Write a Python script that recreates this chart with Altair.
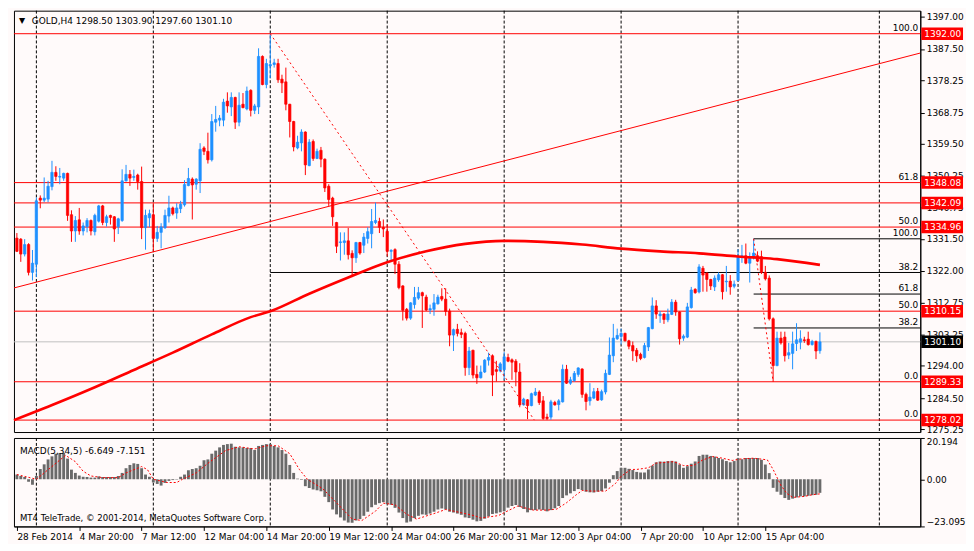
import json
import altair as alt
import pandas as pd

# ---------------- data ----------------
OPEN = [
    1331.7, 1331.4, 1327.0, 1329.8, 1321.6, 1324.0, 1343.5, 1342.9, 1343.2, 1346.9,
    1351.1, 1349.7, 1349.4, 1350.8, 1338.6, 1333.8, 1337.1, 1333.8, 1335.1, 1336.9,
    1333.6, 1336.7, 1341.2, 1336.3, 1338.4, 1338.0, 1335.1, 1336.9, 1348.6, 1350.5,
    1349.6, 1350.3, 1348.4, 1334.8, 1337.7, 1338.6, 1331.6, 1333.4, 1334.8, 1338.2,
    1340.6, 1339.1, 1340.4, 1341.5, 1347.2, 1349.1, 1347.6, 1348.6, 1358.3, 1357.3,
    1354.8, 1365.9, 1366.5, 1366.5, 1372.1, 1370.4, 1373.2, 1365.9, 1371.2, 1369.8,
    1375.3, 1369.4, 1370.4, 1385.3, 1377.0, 1382.5, 1382.9, 1383.2, 1378.6, 1377.8,
    1371.2, 1366.1, 1358.3, 1359.8, 1363.0, 1353.1, 1360.2, 1355.2, 1357.6, 1355.0,
    1347.0, 1343.5, 1336.3, 1330.4, 1330.4, 1330.9, 1327.2, 1325.9, 1330.4, 1329.6,
    1331.6, 1333.0, 1336.3, 1336.6, 1334.9, 1333.7, 1327.8, 1328.3, 1324.0, 1317.6,
    1310.7, 1308.1, 1312.1, 1314.0, 1315.6, 1314.3, 1310.5, 1310.7, 1312.3, 1314.5,
    1313.7, 1310.2, 1303.1, 1304.8, 1303.8, 1303.6, 1293.5, 1298.6, 1291.5, 1290.5,
    1292.2, 1295.7, 1297.0, 1292.9, 1292.5, 1292.9, 1296.5, 1295.8, 1295.4, 1292.2,
    1282.5, 1284.0, 1282.3, 1285.4, 1286.3, 1283.7, 1278.9, 1278.9, 1283.2, 1282.6,
    1283.4, 1293.0, 1288.9, 1289.7, 1291.5, 1293.1, 1285.6, 1283.7, 1284.5, 1286.5,
    1284.0, 1286.3, 1291.5, 1297.0, 1302.0, 1302.7, 1303.6, 1301.4, 1300.0, 1298.6,
    1297.4, 1296.5, 1299.6, 1305.0, 1311.7, 1308.8, 1309.3, 1307.6, 1309.2, 1312.8,
    1309.9, 1302.2, 1302.5, 1311.2, 1316.6, 1315.8, 1322.8, 1321.4, 1319.5, 1317.3,
    1319.4, 1320.9, 1318.8, 1319.0, 1317.5, 1319.2, 1326.2, 1326.5, 1324.3, 1325.9,
    1326.5, 1326.2, 1321.6, 1319.9, 1307.9, 1294.1, 1302.2, 1302.5, 1297.2, 1297.7,
    1300.6, 1301.0, 1301.7, 1301.9, 1300.3, 1301.2, 1298.50,
]
HIGH = [
    1333.2, 1331.7, 1331.4, 1330.2, 1328.2, 1343.7, 1344.3, 1349.6, 1348.6, 1354.5,
    1352.9, 1352.4, 1351.0, 1351.0, 1339.9, 1338.2, 1340.6, 1336.3, 1337.6, 1337.2,
    1338.9, 1341.5, 1341.5, 1338.6, 1338.6, 1338.2, 1337.7, 1352.0, 1353.3, 1351.8,
    1351.9, 1350.7, 1352.8, 1340.1, 1340.1, 1342.0, 1335.3, 1336.1, 1340.1, 1344.2,
    1341.0, 1342.0, 1342.7, 1348.8, 1352.4, 1349.6, 1349.4, 1359.7, 1358.8, 1362.8,
    1368.3, 1370.7, 1368.0, 1372.8, 1374.7, 1374.7, 1373.4, 1374.7, 1374.5, 1376.4,
    1375.6, 1371.3, 1387.7, 1385.6, 1384.6, 1392.0, 1384.6, 1384.6, 1379.9, 1382.0,
    1371.3, 1366.3, 1361.9, 1363.8, 1363.2, 1360.9, 1360.8, 1358.1, 1358.6, 1355.2,
    1347.6, 1343.9, 1336.5, 1333.4, 1333.4, 1334.7, 1328.1, 1330.6, 1330.6, 1333.2,
    1334.9, 1340.3, 1342.2, 1337.7, 1337.2, 1335.8, 1328.4, 1328.7, 1324.9, 1317.8,
    1311.1, 1312.8, 1317.3, 1317.3, 1315.9, 1315.0, 1312.1, 1315.2, 1315.0, 1316.9,
    1316.9, 1310.9, 1305.0, 1306.4, 1305.0, 1304.1, 1299.6, 1298.8, 1294.1, 1294.1,
    1296.0, 1297.9, 1297.4, 1295.5, 1295.1, 1298.1, 1297.6, 1296.2, 1296.0, 1294.8,
    1284.6, 1284.2, 1286.1, 1287.5, 1286.8, 1285.1, 1279.9, 1284.0, 1283.7, 1284.2,
    1294.4, 1294.3, 1290.8, 1292.5, 1293.6, 1293.3, 1286.1, 1288.9, 1287.5, 1287.5,
    1287.0, 1292.9, 1302.4, 1306.4, 1305.0, 1305.0, 1303.8, 1301.7, 1301.2, 1299.3,
    1297.9, 1300.8, 1305.5, 1314.2, 1313.4, 1310.2, 1309.6, 1310.9, 1313.7, 1313.5,
    1310.1, 1303.3, 1312.6, 1317.3, 1316.9, 1324.0, 1323.5, 1321.6, 1319.7, 1320.7,
    1321.6, 1321.1, 1323.5, 1320.8, 1319.2, 1328.4, 1329.7, 1330.1, 1327.5, 1331.5,
    1327.8, 1328.0, 1323.5, 1320.7, 1308.3, 1304.1, 1304.1, 1304.1, 1300.8, 1304.1,
    1306.6, 1304.5, 1302.6, 1304.1, 1301.7, 1301.5, 1303.90,
]
LOW = [
    1327.6, 1324.7, 1326.3, 1320.7, 1319.2, 1320.2, 1340.5, 1342.3, 1342.3, 1345.8,
    1348.6, 1347.6, 1348.6, 1336.8, 1330.6, 1330.6, 1332.7, 1332.5, 1333.4, 1332.5,
    1332.5, 1336.3, 1335.5, 1335.1, 1335.7, 1330.6, 1332.9, 1336.5, 1348.4, 1347.1,
    1348.6, 1346.0, 1331.4, 1328.3, 1334.9, 1327.6, 1330.6, 1328.7, 1334.4, 1336.3,
    1338.4, 1337.4, 1339.1, 1341.0, 1347.0, 1337.2, 1346.0, 1345.0, 1356.2, 1353.7,
    1354.3, 1363.1, 1364.7, 1364.7, 1368.7, 1367.7, 1363.9, 1364.7, 1370.0, 1369.4,
    1367.6, 1368.3, 1368.3, 1376.8, 1375.9, 1378.9, 1382.0, 1377.5, 1374.5, 1369.4,
    1361.4, 1357.3, 1357.9, 1357.3, 1350.3, 1352.9, 1354.5, 1355.0, 1352.6, 1345.3,
    1341.2, 1335.3, 1327.3, 1325.1, 1326.8, 1325.4, 1320.2, 1324.4, 1326.8, 1327.3,
    1330.1, 1328.7, 1335.8, 1333.2, 1332.0, 1326.3, 1324.9, 1321.1, 1316.6, 1307.4,
    1307.4, 1307.6, 1310.9, 1313.5, 1305.2, 1310.2, 1309.3, 1308.8, 1312.1, 1313.1,
    1308.8, 1299.8, 1298.4, 1302.7, 1302.2, 1291.1, 1291.3, 1290.3, 1288.7, 1290.3,
    1291.9, 1294.1, 1285.1, 1289.4, 1292.1, 1289.9, 1295.1, 1289.9, 1288.0, 1281.8,
    1282.3, 1278.3, 1282.1, 1285.1, 1282.5, 1278.1, 1278.02, 1278.1, 1282.3, 1280.9,
    1283.2, 1288.7, 1288.4, 1289.3, 1290.8, 1284.6, 1280.9, 1282.3, 1284.2, 1283.7,
    1283.7, 1285.6, 1291.3, 1295.1, 1301.7, 1300.3, 1301.2, 1298.9, 1295.5, 1295.1,
    1295.7, 1296.2, 1298.4, 1304.8, 1307.9, 1306.7, 1306.4, 1306.9, 1309.0, 1308.8,
    1300.3, 1301.4, 1302.2, 1310.9, 1315.3, 1315.4, 1315.9, 1315.9, 1316.4, 1316.1,
    1318.8, 1313.6, 1315.9, 1315.0, 1316.9, 1319.0, 1324.4, 1324.0, 1318.6, 1325.4,
    1324.6, 1321.1, 1319.2, 1307.4, 1289.33, 1293.9, 1300.3, 1295.3, 1296.0, 1293.0,
    1298.4, 1298.9, 1300.8, 1300.0, 1300.0, 1296.0, 1297.60,
]
CLOSE = [
    1327.8, 1327.0, 1329.8, 1321.6, 1324.3, 1342.7, 1342.9, 1343.5, 1347.0, 1351.1,
    1349.9, 1349.9, 1350.8, 1338.4, 1333.8, 1336.9, 1333.8, 1335.3, 1336.9, 1333.8,
    1338.4, 1341.2, 1336.3, 1338.0, 1337.8, 1334.4, 1337.4, 1348.6, 1350.5, 1349.4,
    1349.9, 1348.4, 1334.8, 1338.4, 1338.9, 1331.6, 1333.4, 1335.0, 1338.4, 1340.6,
    1338.9, 1340.6, 1341.7, 1347.5, 1349.3, 1347.4, 1349.1, 1357.9, 1357.3, 1354.8,
    1366.1, 1366.7, 1367.1, 1371.8, 1370.7, 1373.2, 1365.9, 1370.9, 1370.2, 1375.1,
    1369.4, 1370.7, 1385.3, 1377.0, 1383.2, 1382.9, 1383.4, 1378.4, 1377.5, 1371.2,
    1366.1, 1358.6, 1360.0, 1363.0, 1353.3, 1360.0, 1355.2, 1357.3, 1355.0, 1346.5,
    1343.1, 1338.0, 1329.3, 1330.6, 1330.9, 1326.8, 1325.9, 1330.4, 1327.3, 1332.0,
    1333.6, 1336.6, 1336.9, 1334.9, 1334.4, 1327.8, 1328.1, 1324.0, 1317.1, 1310.4,
    1308.1, 1312.6, 1314.2, 1315.6, 1314.7, 1310.5, 1310.9, 1312.6, 1314.3, 1313.7,
    1310.1, 1303.1, 1304.7, 1303.6, 1303.3, 1293.5, 1298.4, 1291.3, 1290.5, 1292.2,
    1295.7, 1296.5, 1291.3, 1292.4, 1294.6, 1296.7, 1295.4, 1295.1, 1292.2, 1282.5,
    1284.2, 1282.3, 1285.8, 1286.3, 1283.2, 1278.5, 1278.5, 1283.4, 1282.5, 1283.7,
    1293.0, 1288.9, 1289.9, 1291.8, 1293.4, 1285.6, 1283.5, 1284.8, 1286.4, 1283.9,
    1286.4, 1291.8, 1297.2, 1302.2, 1303.0, 1303.6, 1301.4, 1299.8, 1298.4, 1297.0,
    1296.2, 1300.0, 1305.3, 1311.7, 1309.3, 1309.3, 1307.7, 1309.3, 1312.8, 1309.9,
    1302.0, 1302.8, 1311.4, 1316.4, 1315.6, 1323.2, 1320.8, 1319.5, 1317.6, 1319.9,
    1320.9, 1315.9, 1319.0, 1317.3, 1318.1, 1326.3, 1326.5, 1324.3, 1326.2, 1327.3,
    1324.9, 1321.6, 1319.7, 1307.9, 1294.1, 1302.2, 1300.8, 1297.0, 1297.9, 1300.5,
    1301.7, 1302.0, 1301.5, 1300.3, 1301.2, 1298.4, 1301.10,
]

MACD = [
    2.3, 1.6, 1.1, -1.2, -2.7, 1.6, 5.0, 7.3, 9.7, 11.2,
    12.5, 12.7, 12.9, 10.1, 4.7, 3.1, 1.8, 1.2, 1.1, 0.8,
    0.8, 1.4, 1.1, 1.1, 1.1, 1.1, 1.6, 3.1, 5.4, 7.0,
    7.8, 7.5, 5.4, 2.3, 1.2, -1.6, -2.3, -3.1, -1.8, -0.8,
    -0.4, -0.2, 1.2, 2.3, 4.4, 5.0, 5.4, 6.6, 9.3, 9.7,
    12.5, 14.0, 15.6, 16.8, 17.2, 17.4, 15.9, 15.6, 15.6, 15.3,
    15.3, 14.3, 16.3, 16.8, 17.2, 17.2, 16.3, 15.6, 14.3, 12.5,
    7.0, 3.1, 0.3, -0.3, -3.4, -4.3, -5.0, -5.4, -5.9, -8.6,
    -11.2, -14.8, -17.2, -18.7, -20.2, -21.2, -21.3, -20.2, -19.5, -17.9,
    -15.9, -13.7, -12.5, -11.7, -11.2, -12.2, -12.5, -14.0, -16.3, -19.0,
    -21.2, -20.7, -19.0, -17.9, -17.2, -17.4, -16.8, -15.9, -14.8, -14.3,
    -14.8, -15.9, -16.3, -16.8, -17.4, -18.7, -19.0, -19.8, -20.6, -20.4,
    -19.3, -18.2, -17.0, -16.7, -16.2, -15.7, -13.9, -13.1, -12.6, -13.6,
    -14.6, -16.2, -15.1, -15.1, -14.8, -15.1, -15.7, -15.1, -14.2, -13.1,
    -9.2, -7.9, -6.9, -5.8, -4.8, -5.3, -6.1, -6.4, -6.5, -6.1,
    -5.8, -4.5, -1.7, 2.0, 4.0, 5.6, 5.6, 5.1, 4.5, 3.6,
    3.3, 3.3, 4.8, 6.7, 8.3, 8.7, 8.6, 8.9, 9.0, 8.7,
    7.2, 5.6, 6.4, 7.6, 8.7, 11.4, 12.0, 12.0, 11.4, 11.1,
    10.4, 9.8, 8.9, 8.3, 8.9, 10.3, 9.8, 10.4, 10.4, 10.4,
    10.4, 9.5, 7.2, 3.0, -4.2, -6.1, -7.6, -9.2, -10.1, -9.5,
    -8.9, -8.4, -8.4, -8.1, -7.8, -7.6, -6.649,
]
SIG_BAR = [0, 5, 12.5, 15, 17, 19, 22, 26, 28, 32,
           33.5, 35, 38.5, 41, 42.5, 46, 49, 53.5, 57, 61,
           64, 67, 70, 72.5, 74.5, 78.5, 82.5, 86, 88.5, 92,
           94, 97, 100, 102.5, 107, 110, 114, 117.5, 119, 123.5,
           126, 128.5, 132.5, 136, 138.5, 141, 143.5, 145, 147.5, 151,
           153.5, 155, 157.5, 159, 162, 164, 168.5, 171, 173.5, 176,
           178.5, 181, 183.5, 186, 189, 192.5, 194, 196, 197.5, 199,
           202, 204, 206]
SIG_VAL = [2.3, 0.0, 11.7, 8.6, 3.9, 1.6, 0.8, 0.8, 3.1, 6.2,
           4.7, 0.0, -1.6, -1.6, 0.0, 3.1, 7.8, 14.0, 15.9, 14.8,
           16.4, 16.4, 12.5, 4.7, 0.0, -4.7, -12.5, -19.5, -20.2, -15.6,
           -11.7, -12.5, -17.1, -19.5, -16.8, -14.8, -16.4, -17.9, -19.0, -17.8,
           -15.4, -13.1, -15.1, -15.1, -14.6, -11.5, -7.6, -5.5, -5.8, -5.8,
           -2.2, 1.4, 4.8, 4.8, 5.6, 7.9, 8.6, 6.7, 6.7, 9.5,
           11.1, 10.3, 9.2, 10.0, 10.3, 9.5, 4.8, -3.0, -6.9, -8.9,
           -8.4, -7.6, -7.151]

MA_BAR = [-0.75, 10, 20, 30, 40, 50, 60, 65, 75, 85, 95, 105, 115, 125, 135,
          145, 155, 165, 175, 185, 195, 206]
MA_VAL = [1278.0, 1282.9, 1287.7, 1292.8, 1297.9, 1303.3, 1308.4, 1310.1, 1315.3,
          1320.1, 1324.6, 1327.8, 1330.0, 1330.9, 1330.6, 1329.8, 1328.6, 1327.8,
          1327.2, 1326.3, 1325.5, 1323.8]

RED_LEVELS = [1392.00, 1348.08, 1342.09, 1334.96, 1310.15, 1289.33, 1278.02]
LAST_PRICE = 1301.10

BLACK_LEVELS = [1331.50, 1321.56, 1315.20, 1305.20]
BLACK_START = [189, 65, 189, 189]

LEVEL_TEXT = ["100.0", "61.8", "50.0", "100.0", "38.2", "61.8", "50.0", "38.2", "0.0", "0.0"]
LEVEL_PRICE = [1392.00, 1348.08, 1334.96, 1331.50, 1321.56, 1315.20, 1310.15, 1305.20, 1289.33, 1278.02]

TREND_BAR = [-0.75, 231.75]
TREND_VAL = [1317.0, 1386.3]
DIAG_GROUP = ["a", "a", "b", "b"]
DIAG_BAR = [65, 132.75, 189, 194]
DIAG_VAL = [1392.00, 1278.02, 1331.50, 1289.33]

WEEK_BARS = [5, 35, 65, 95, 125, 155, 185, 221.25]

PRICE_TICKS = [1397.00, 1387.50, 1378.25, 1368.75, 1359.50, 1350.25, 1340.75,
               1331.50, 1322.00, 1312.75, 1303.25, 1294.00, 1284.50, 1275.25]
MACD_TICKS = [20.194, 0.0, -23.095]
DATE_BARS = [0, 16, 32, 48, 64, 80, 96, 112, 128, 144, 160, 176, 192]
DATE_LABELS = ["28 Feb 2014", "4 Mar 20:00", "7 Mar 12:00", "12 Mar 04:00",
               "14 Mar 20:00", "19 Mar 12:00", "24 Mar 04:00", "26 Mar 20:00",
               "31 Mar 12:00", "3 Apr 04:00", "7 Apr 20:00", "10 Apr 12:00",
               "15 Apr 04:00"]

SYMBOL = "GOLD,H4"
MACD_NAME = "MACD(5,34,5)"
COPYRIGHT = "MT4 TeleTrade, \u00a9 2001-2014, MetaQuotes Software Corp."

# ---------------- styling ----------------
BG = "#FFFAFA"
FONT = "DejaVu Sans"
BULL = "#1E90FF"
BEAR = "#FF0000"
W = 912
H1 = 424
H2 = 89

X_MIN, X_MAX = -0.75, 231.75
P_MIN, P_MAX = 1274.5, 1398.8

xs = alt.Scale(domain=[X_MIN, X_MAX], nice=False, zero=False)
ys = alt.Scale(domain=[P_MIN, P_MAX], nice=False, zero=False)
ms = alt.Scale(domain=[min(MACD_TICKS), max(MACD_TICKS)], nice=False, zero=False)

yax = alt.Axis(orient="right", values=PRICE_TICKS, format=".2f", title=None, grid=False,
               tickSize=4, tickColor="black", domainColor="black", labelColor="black",
               labelFont=FONT, labelFontSize=9, labelPadding=2, labelOverlap=False,
               labelBound=False)
max_ = alt.Axis(orient="right", values=MACD_TICKS, title=None, grid=False,
                labelExpr="datum.value == 0 ? '0.00' : format(datum.value, '.3f')",
                labelFlush=True, tickSize=4, tickColor="black", domainColor="black",
                labelColor="black", labelFont=FONT, labelFontSize=9, labelPadding=2,
                labelOverlap=False)
xax = alt.Axis(values=DATE_BARS, title=None, grid=False,
               labelExpr=f"{json.dumps(DATE_LABELS)}[indexof({json.dumps(DATE_BARS)}, datum.value)]",
               labelAlign="left", labelBaseline="top", labelPadding=2, tickSize=4,
               tickColor="black", domainColor="black", labelColor="black", labelFont=FONT,
               labelFontSize=9, labelFlush=False, labelOverlap=False)

dirscale = alt.Scale(domain=["up", "down"], range=[BULL, BEAR])

candles = pd.DataFrame({"bar": list(range(len(OPEN))), "open": OPEN, "high": HIGH,
                        "low": LOW, "close": CLOSE})
candles["dir"] = ["up" if c >= o else "down" for o, c in zip(OPEN, CLOSE)]

week_df = pd.DataFrame({"bar": WEEK_BARS})
red_df = pd.DataFrame({"price": RED_LEVELS})
last_df = pd.DataFrame({"price": [LAST_PRICE]})
black_df = pd.DataFrame({"price": BLACK_LEVELS, "start": BLACK_START,
                         "end": [X_MAX] * len(BLACK_LEVELS)})
lvl_df = pd.DataFrame({"label": LEVEL_TEXT, "price": LEVEL_PRICE})
trend_df = pd.DataFrame({"bar": TREND_BAR, "price": TREND_VAL})
diag_df = pd.DataFrame({"g": DIAG_GROUP, "bar": DIAG_BAR, "price": DIAG_VAL})
ma_df = pd.DataFrame({"bar": MA_BAR, "price": MA_VAL})
one = pd.DataFrame({"t": [0]})

title_txt = f"{SYMBOL}  {OPEN[-1]:.2f} {HIGH[-1]:.2f} {LOW[-1]:.2f} {CLOSE[-1]:.2f}"
macd_txt = f"{MACD_NAME} {MACD[-1]:.3f} {SIG_VAL[-1]:.3f}"

# ---------------- main price panel ----------------
week = alt.Chart(week_df).mark_rule(color="black", strokeDash=[3, 2], strokeWidth=1).encode(
    x=alt.X("bar:Q", scale=xs, axis=None))
red_rules = alt.Chart(red_df).mark_rule(color=BEAR, strokeWidth=1).encode(
    y=alt.Y("price:Q", scale=ys, axis=yax))
last_rule = alt.Chart(last_df).mark_rule(color="#C0C0C0", strokeWidth=1).encode(
    y=alt.Y("price:Q", scale=ys, axis=yax))
black_rules = alt.Chart(black_df).mark_rule(color="black", strokeWidth=1).encode(
    x=alt.X("start:Q", scale=xs, axis=None), x2="end:Q",
    y=alt.Y("price:Q", scale=ys, axis=yax))
trend = alt.Chart(trend_df).mark_line(color=BEAR, strokeWidth=1, clip=True).encode(
    x=alt.X("bar:Q", scale=xs, axis=None), y=alt.Y("price:Q", scale=ys, axis=yax))
wicks = alt.Chart(candles).mark_rule(strokeWidth=1).encode(
    x=alt.X("bar:Q", scale=xs, axis=None),
    y=alt.Y("low:Q", scale=ys, axis=yax), y2="high:Q",
    color=alt.Color("dir:N", scale=dirscale, legend=None))
bodies = alt.Chart(candles).transform_calculate(
    x1="datum.bar - 0.3", x2="datum.bar + 0.3").mark_rect(strokeWidth=0.7).encode(
    x=alt.X("x1:Q", scale=xs, axis=None), x2="x2:Q",
    y=alt.Y("open:Q", scale=ys, axis=yax), y2="close:Q",
    fill=alt.Color("dir:N", scale=dirscale, legend=None),
    stroke=alt.Color("dir:N", scale=dirscale, legend=None))
ma = alt.Chart(ma_df).mark_line(color=BEAR, strokeWidth=2.6, interpolate="monotone").encode(
    x=alt.X("bar:Q", scale=xs, axis=None), y=alt.Y("price:Q", scale=ys, axis=yax))
diag = alt.Chart(diag_df).mark_line(color=BEAR, strokeWidth=1, strokeDash=[2, 3]).encode(
    x=alt.X("bar:Q", scale=xs, axis=None), y=alt.Y("price:Q", scale=ys, axis=yax),
    detail="g:N")
lvl_text = alt.Chart(lvl_df).mark_text(align="right", baseline="bottom", dy=-1, font=FONT,
                                       fontSize=9, color="black").encode(
    x=alt.value(W - 2), y=alt.Y("price:Q", scale=ys, axis=yax), text="label:N")


def price_box(df, colour):
    rect = alt.Chart(df).transform_calculate(
        lo="datum.price - 1.85", hi="datum.price + 1.85").mark_rect(color=colour).encode(
        x=alt.value(W + 1), x2=alt.value(W + 43),
        y=alt.Y("lo:Q", scale=ys, axis=yax), y2="hi:Q")
    txt = alt.Chart(df).mark_text(align="left", baseline="middle", font=FONT,
                                  fontSize=9, color="white").encode(
        x=alt.value(W + 4), y=alt.Y("price:Q", scale=ys, axis=yax),
        text=alt.Text("price:Q", format=".2f"))
    return rect + txt


red_boxes = price_box(red_df, "#FF0000")
last_box = price_box(last_df, "#000000")

tri = alt.Chart(one).mark_text(text="\u25bc", align="left", baseline="middle", font=FONT,
                               fontSize=8, color="black").encode(x=alt.value(5), y=alt.value(10))
ttl = alt.Chart(one).mark_text(text=title_txt, align="left", baseline="middle", font=FONT,
                               fontSize=9, color="black").encode(x=alt.value(18), y=alt.value(10))

main = alt.layer(week, red_rules, last_rule, black_rules, trend, wicks, bodies, ma, diag,
                 lvl_text, red_boxes, last_box, tri, ttl).properties(width=W, height=H1)

# ---------------- MACD panel ----------------
macd_df = pd.DataFrame({"bar": list(range(len(MACD))), "macd": MACD})
sig_df = pd.DataFrame({"bar": SIG_BAR, "val": SIG_VAL})

mweek = alt.Chart(week_df).mark_rule(color="black", strokeDash=[3, 2], strokeWidth=1).encode(
    x=alt.X("bar:Q", scale=xs, axis=xax))
hist = alt.Chart(macd_df).transform_calculate(
    x1="datum.bar - 0.37", x2="datum.bar + 0.37", zero="0").mark_rect(color="#6A6A6A").encode(
    x=alt.X("x1:Q", scale=xs, axis=xax), x2="x2:Q",
    y=alt.Y("macd:Q", scale=ms, axis=max_), y2="zero:Q")
sig = alt.Chart(sig_df).mark_line(color=BEAR, strokeWidth=1, strokeDash=[2, 2]).encode(
    x=alt.X("bar:Q", scale=xs, axis=xax), y=alt.Y("val:Q", scale=ms, axis=max_))
mtxt = alt.Chart(one).mark_text(text=macd_txt, align="left", baseline="middle", font=FONT,
                                fontSize=9, color="black").encode(x=alt.value(6), y=alt.value(13))
ctxt = alt.Chart(one).mark_text(text=COPYRIGHT, align="left", baseline="middle", font=FONT,
                                fontSize=8.6, color="black").encode(x=alt.value(6), y=alt.value(H2 - 8))

macd = alt.layer(mweek, hist, sig, mtxt, ctxt).properties(width=W, height=H2)

chart = alt.vconcat(main, macd, spacing=2).properties(
    background=BG, padding={"left": 0, "top": 0, "right": 0, "bottom": 0}
).configure_view(stroke="black", strokeWidth=1, fill=BG)

chart.save("out.html", embed_options={"renderer": "svg", "actions": False})
